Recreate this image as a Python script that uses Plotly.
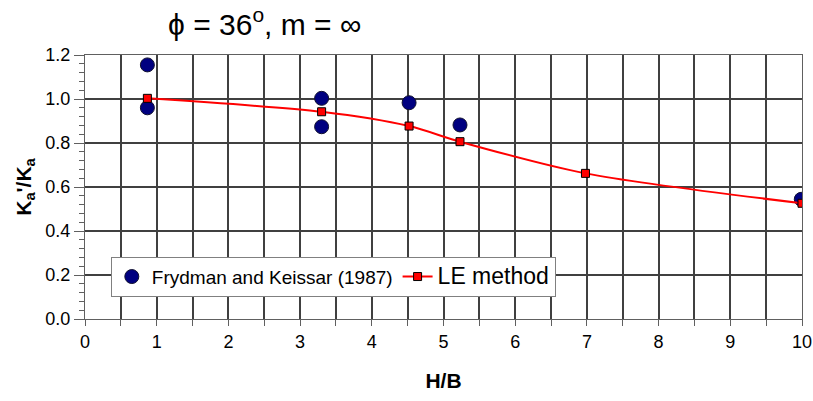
import plotly.graph_objects as go

# Frydman and Keissar (1987) data
fk_x = [0.87, 0.87, 3.30, 3.30, 4.52, 5.23, 9.99]
fk_y = [1.155, 0.96, 1.003, 0.874, 0.983, 0.882, 0.544]

# LE method
le_x = [0.87, 3.30, 4.52, 5.23, 6.98, 10.0]
le_y = [1.003, 0.942, 0.877, 0.806, 0.662, 0.526]

x_ticks = list(range(0, 11))
y_ticks = [0.0, 0.2, 0.4, 0.6, 0.8, 1.0, 1.2]

FONT = "Liberation Sans, Arial, sans-serif"
GRID = "#404040"

fig = go.Figure()
fig.add_trace(go.Scatter(
    x=fk_x, y=fk_y, mode="markers",
    name="Frydman and Keissar (1987)",
    marker=dict(symbol="circle", size=14, color="#000080",
                line=dict(color="#101030", width=1)),
))
fig.add_trace(go.Scatter(
    x=le_x, y=le_y, mode="lines+markers",
    name='<span style="font-size:23px">LE method</span>',
    line=dict(color="#ff0000", width=2, shape="spline", smoothing=0.8),
    marker=dict(symbol="square", size=8, color="#ff0000",
                line=dict(color="#000000", width=1)),
))

fig.update_layout(
    width=813, height=401,
    margin=dict(l=85, r=11, t=55, b=82, autoexpand=False),
    paper_bgcolor="white", plot_bgcolor="white",
    font=dict(family=FONT, size=17, color="#000000"),
    showlegend=True,
    legend=dict(
        orientation="h", x=0.036, y=0.236, xanchor="left", yanchor="top",
        bgcolor="white", bordercolor="#808080", borderwidth=1,
        font=dict(family=FONT, size=19, color="#000000"),
        tracegroupgap=0, itemwidth=30,
    ),
    xaxis=dict(
        range=[0, 10], tickvals=x_ticks, ticktext=[str(v) for v in x_ticks],
        showgrid=True, gridcolor=GRID, gridwidth=2,
        showline=True, linecolor="#606060", linewidth=1, mirror=True,
        ticks="outside", ticklen=6, tickcolor="#606060",
        minor=dict(dtick=0.5, showgrid=True, gridcolor=GRID, gridwidth=2,
                   ticks="outside", ticklen=6, tickcolor="#606060"),
        zeroline=False, tickfont=dict(size=18), automargin=False,
        title=dict(text="<b>H/B</b>", font=dict(size=21), standoff=22),
        fixedrange=True,
    ),
    yaxis=dict(
        range=[0, 1.2], tickvals=y_ticks, ticktext=[f"{v:.1f}" for v in y_ticks],
        showgrid=True, gridcolor=GRID, gridwidth=2,
        showline=True, linecolor="#606060", linewidth=1, mirror=True,
        ticks="outside", ticklen=10, tickcolor="#606060",
        minor=dict(dtick=0.04, showgrid=False, ticks="outside", ticklen=5,
                   tickcolor="#606060"),
        zeroline=False, tickfont=dict(size=18), automargin=False,
        title=dict(text="<b>K<sub>a</sub>'/K<sub>a</sub></b>", font=dict(size=21), standoff=8),
        fixedrange=True,
    ),
    annotations=[dict(
        text="ϕ = 36<sup>o</sup>, m = ∞", xref="paper", yref="paper",
        x=0.25, y=1.0, xanchor="center", yanchor="bottom", yshift=12,
        showarrow=False, font=dict(family=FONT, size=30, color="#000000"),
    )],
)

fig.write_html("out.html")
